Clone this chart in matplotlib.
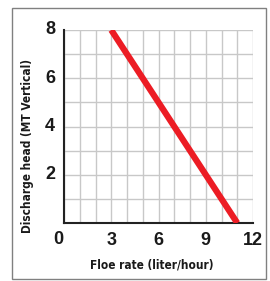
import matplotlib
matplotlib.use("Agg")
import matplotlib.pyplot as plt
from matplotlib.patches import Rectangle
from matplotlib import font_manager as fm

flow = [3, 11]
head = [8, 0]
xticks = [3, 6, 9, 12]
xticklabels = ["3", "6", "9", "12"]
yticks = [2, 4, 6, 8]
yticklabels = ["2", "4", "6", "8"]
xlabel = "Floe rate (liter/hour)"
ylabel = "Discharge head (MT Vertical)"

W, H = 270, 281
fig = plt.figure(figsize=(W / 100, H / 100), dpi=100)
fig.patch.set_facecolor("white")

# outer frame
fig.patches.append(Rectangle((12 / W, 1 - 279 / H), (266 - 12) / W, (279 - 8) / H,
                             transform=fig.transFigure, fill=False,
                             edgecolor="#808080", linewidth=1.0))

ax = fig.add_axes([64 / W, 1 - 223 / H, (253 - 64) / W, (223 - 30) / H])
ax.set_xlim(0, 12)
ax.set_ylim(0, 8)
ax.set_xticks(range(0, 13), minor=False)
ax.set_yticks(range(0, 9))
ax.grid(True, color="#c8c8c8", linewidth=1.0)
ax.set_axisbelow(True)
for s in ["top", "right"]:
    ax.spines[s].set_visible(False)
for s in ["left", "bottom"]:
    ax.spines[s].set_color("#222222")
    ax.spines[s].set_linewidth(1.5)
    ax.spines[s].set_zorder(3)
ax.tick_params(length=0, labelbottom=False, labelleft=False)

ax.plot(flow, head, color="#ec1c24", linewidth=4.5, solid_capstyle="butt", zorder=4)

tfont = dict(family="Liberation Sans", fontweight="bold", fontsize=13, color="#1a1a1a")
for v, t in zip(xticks, xticklabels):
    ax.annotate(t, (v, 0), xytext=(0, -12.5), textcoords="offset points",
                ha="center", va="center", **tfont)
for v, t in zip(yticks, yticklabels):
    ax.annotate(t, (0, v), xytext=(-10, 0), textcoords="offset points",
                ha="center", va="center", **tfont)
fig.text(58 / W, 1 - 240 / H, "0", ha="center", va="center", **tfont)

lfont = dict(family="DejaVu Sans", fontstretch="condensed", fontweight="bold",
             fontsize=8.5, color="#1a1a1a")
t1 = fig.text(152 / W, 1 - 265 / H, xlabel, ha="center", va="center", **lfont)
t2 = fig.text(28 / W, 1 - 146 / H, ylabel, ha="center", va="center", rotation=90, **lfont)

fig.canvas.draw()
r = fig.canvas.get_renderer()
bb = t1.get_window_extent(r)
print("xlabel width", bb.width, fm.findfont(t1.get_fontproperties()))
# scale to match reference width (~123 px)
target = 123.0
if bb.width > 0:
    s = target / bb.width
    t1.set_fontsize(8.5 * s)
    t2.set_fontsize(8.5 * s)

fig.savefig("out.png", dpi=100, facecolor="white")
